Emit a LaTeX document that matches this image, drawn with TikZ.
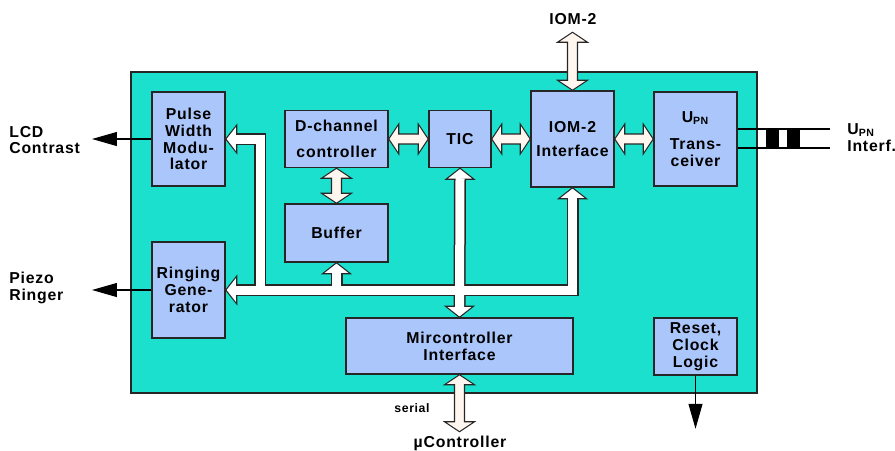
\documentclass[tikz,border=0pt]{standalone}
\usepackage{fontspec}
\setmainfont{Liberation Sans}[LetterSpace=5]
\usetikzlibrary{calc,arrows.meta}
\definecolor{chipteal}{RGB}{27,224,205}
\definecolor{blkblue}{RGB}{170,198,250}
\definecolor{arrwhite}{RGB}{255,246,240}
% hollow double arrows between blocks
\newcommand\hdbl[2]{\filldraw[dblarr] #1 -- ++(10,-15) -- ++(0,10) -- ($#2+(-10,-5)$) -- ++(0,-10) -- #2 -- ++(-10,15) -- ++(0,-10) -- ($#1+(10,5)$) -- ++(0,10) -- cycle;}
\newcommand\vdbl[2]{\filldraw[dblarr] #1 -- ++(15,10) -- ++(-10,0) -- ($#2+(5,-10)$) -- ++(10,0) -- #2 -- ++(-15,-10) -- ++(10,0) -- ($#1+(-5,10)$) -- ++(-10,0) -- cycle;}
% heads of the internal bus
\newcommand\headleft[1]{\filldraw[bushead] #1 -- ++(11,-14) -- ++(0,28) -- cycle;}
\newcommand\headup[1]{\filldraw[bushead] #1 -- ++(14,11) -- ++(-28,0) -- cycle;}
\newcommand\headdown[1]{\filldraw[bushead] #1 -- ++(14,-11) -- ++(-28,0) -- cycle;}
\newcommand\busnet[2]{%
  \draw[#1] ($(pwm.east)+(#2,0)$) -- (bustl) -- (busbl) -- (busbr) -- ($(iom.south)+(0,#2)$);
  \draw[#1] ($(ring.east)+(#2,0)$) -- (busbl);
  \draw[#1] ($(tic.south)+(0,#2)$) -- ($(mcu.north)+(0,-#2)$);
  \draw[#1] ($(buf.south)+(0,#2)$) -- (buf.south |- busbl);}

\begin{document}
\begin{tikzpicture}[x=0.02cm, y=-0.02cm,
    every node/.style={font=\bfseries\fontsize{9}{9.6}\selectfont},
    blk/.style={draw=black!85, line width=0.85pt, fill=blkblue, align=center, inner sep=0pt},
    lbl/.style={align=left, inner sep=0pt, anchor=west},
    dblarr/.style={fill=arrwhite, draw=black!85, line width=0.6pt, line join=miter},
    bushead/.style={fill=white, draw=black!85, line width=0.6pt},
    busouter/.style={draw=black!85, line width=0.24cm, line join=miter},
    businner/.style={draw=white, line width=0.18cm, line join=miter},
    sig/.style={draw=black, line width=0.6pt, -{Triangle[length=0.5cm, width=0.28cm]}}]
  \useasboundingbox (0,0) rectangle (895,450);
  \filldraw[fill=chipteal, draw=black!85, line width=1.1pt] (131,72) rectangle (757,393);

  \node[blk, minimum width=1.46cm, minimum height=1.88cm] (pwm) at (188.5,139) {Pulse\\Width\\Modu-\\lator};
  \node[blk, minimum width=1.46cm, minimum height=1.92cm] (ring) at (188.5,290) {Ringing\\Gene-\\rator};
  \node[blk, minimum width=2.06cm, minimum height=1.14cm] (dch) at (336.5,139) {D-channel\\[5.5pt]controller};
  \node[blk, minimum width=2.06cm, minimum height=1.16cm] (buf) at (336.5,233) {Buffer};
  \node[blk, minimum width=1.24cm, minimum height=1.14cm] (tic) at (460,139) {TIC};
  \node[blk, minimum width=1.66cm, minimum height=1.92cm] (iom) at (572.5,139) {IOM-2\\[4.5pt]Interface};
  \node[blk, minimum width=1.66cm, minimum height=1.88cm] (upn) at (695.5,139) {U\textsubscript{PN}\\[5.5pt]Trans-\\ceiver};
  \node[blk, minimum width=4.54cm, minimum height=1.12cm] (mcu) at (459.5,346) {Mircontroller\\Interface};
  \node[blk, minimum width=1.66cm, minimum height=1.14cm] (rst) at (695.5,346.5) {Reset,\\Clock\\Logic};

  \node[lbl] (lcd) at (9,140) {LCD\\Contrast};
  \node[lbl] (piezo) at (9,288) {Piezo\\Ringer};
  \node[lbl] (upnlbl) at (847,138) {U\textsubscript{PN}\\Interf.};
  \node (iomlbl) at (573,19) {IOM-2};
  \node[font=\bfseries\fontsize{7}{8}\selectfont] (serial) at (412,408) {serial};
  \node (uctl) at (460,443) {µController};

  % internal bus
  \coordinate (bustl) at (260,139);
  \coordinate (busbl) at (260,290);
  \coordinate (busbr) at (iom.south |- busbl);
  \headleft{(pwm.east)}
  \headleft{(ring.east)}
  \headup{(tic.south)}
  \headup{(buf.south)}
  \headup{(iom.south)}
  \headdown{(mcu.north)}
  \busnet{busouter}{11}
  \busnet{businner}{10}

  \coordinate (iomtop) at ($(iom.north)+(0,-58)$);
  \coordinate (ucbot) at ($(mcu.south)+(0,57)$);
  \hdbl{(dch.east)}{(tic.west)}
  \hdbl{(tic.east)}{(iom.west)}
  \hdbl{(iom.east)}{(upn.west)}
  \vdbl{(dch.south)}{(buf.north)}
  \vdbl{(iomtop)}{(iom.north)}
  \vdbl{(mcu.south)}{(ucbot)}

  % outputs
  \coordinate (lcdend) at (92,139);
  \coordinate (piezoend) at (92,290);
  \coordinate (rstend) at ($(rst.south)+(0,53)$);
  \draw[sig] (pwm.west) -- (lcdend);
  \draw[sig] (ring.west) -- (piezoend);
  \draw[sig] (rst.south) -- (rstend);

  % U_PN line with transformer
  \coordinate (upnA) at (830,129);
  \coordinate (upnB) at (830,148);
  \draw[line width=0.8pt] (upn.east |- upnA) -- (upnA);
  \draw[line width=0.8pt] (upn.east |- upnB) -- (upnB);
  \fill (766,129) rectangle (779,149);
  \fill (787,129) rectangle (800,149);
\end{tikzpicture}
\end{document}
